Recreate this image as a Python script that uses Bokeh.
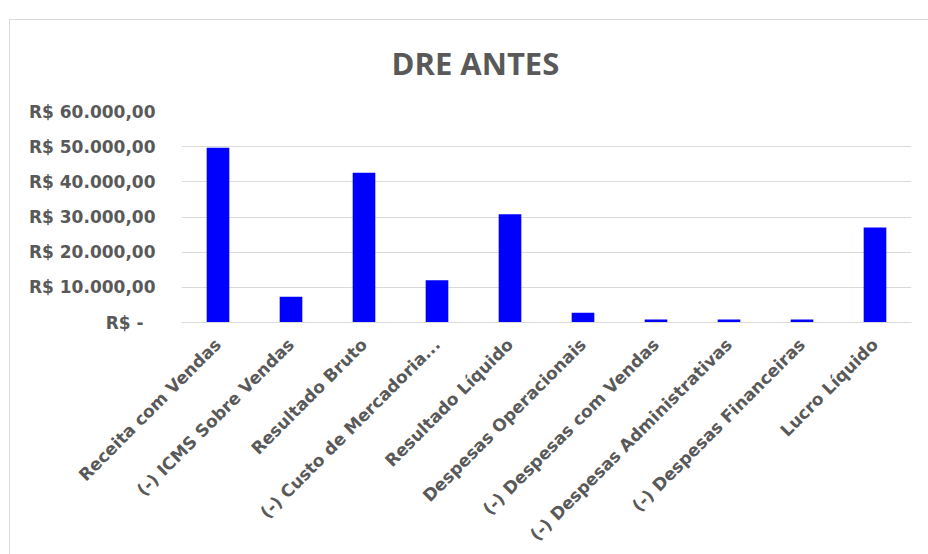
import math
from bokeh.plotting import figure
from bokeh.models import FactorRange, Range1d, FixedTicker, ColumnDataSource
from bokeh.embed import file_html
from bokeh.resources import INLINE

title_text = "DRE ANTES"
categories = [
    "Receita com Vendas",
    "(-) ICMS Sobre Vendas",
    "Resultado Bruto",
    "(-) Custo de Mercadoria...",
    "Resultado Líquido",
    "Despesas Operacionais",
    "(-) Despesas com Vendas",
    "(-) Despesas Administrativas",
    "(-) Despesas Financeiras",
    "Lucro Líquido",
]
values = [49700, 7300, 42600, 12000, 30800, 2800, 850, 850, 850, 27000]
y_ticks = [0, 10000, 20000, 30000, 40000, 50000, 60000]
y_tick_labels = ["R$ -\u00a0\u00a0", "R$ 10.000,00", "R$ 20.000,00", "R$ 30.000,00",
                 "R$ 40.000,00", "R$ 50.000,00", "R$ 60.000,00"]

TEXT = "#595959"
GRID = "#d9d9d9"

src = ColumnDataSource(dict(cat=categories, val=values))

chart_border = ("linear-gradient(#d9d9d9,#d9d9d9) 0 8px / 100% 1px no-repeat, "
                "linear-gradient(#d9d9d9,#d9d9d9) 0 8px / 1px 100% no-repeat")

p = figure(x_range=FactorRange(*categories), y_range=Range1d(0, 60000),
           width=919, height=543, margin=(11, 0, 0, 9),
           output_backend="svg", toolbar_location=None,
           min_border_left=172, min_border_right=17, min_border_top=100, min_border_bottom=232,
           styles={"background": chart_border})
p.x_range.range_padding = 0
p.border_fill_alpha = 0
p.background_fill_color = "white"

p.vbar(x="cat", top="val", width=0.31, source=src, fill_color="#0000ff", line_color=None)

p.title.text = title_text
p.title.align = "left"
p.title.offset = 210
p.title.standoff = 56
p.title.text_font = "Open Sans"
p.title.text_font_style = "bold"
p.title.text_font_size = "31px"
p.title.text_color = TEXT

p.outline_line_color = None
p.xgrid.grid_line_color = None
p.ygrid.grid_line_color = GRID
p.ygrid.grid_line_width = 1

p.yaxis.ticker = FixedTicker(ticks=y_ticks)
p.yaxis.major_label_overrides = {t: l for t, l in zip(y_ticks, y_tick_labels)}
p.yaxis.axis_line_color = None
p.yaxis.major_tick_line_color = None
p.yaxis.minor_tick_line_color = None
p.yaxis.major_tick_out = 0
p.yaxis.major_tick_in = 0
p.yaxis.major_label_standoff = 26
p.yaxis.major_label_text_font = "DejaVu Sans"
p.yaxis.major_label_text_font_style = "bold"
p.yaxis.major_label_text_font_size = "17px"
p.yaxis.major_label_text_color = TEXT

p.xaxis.axis_line_color = GRID
p.xaxis.major_tick_line_color = None
p.xaxis.minor_tick_line_color = None
p.xaxis.major_tick_out = 0
p.xaxis.major_tick_in = 0
p.xaxis.major_label_orientation = math.pi / 4
p.xaxis.major_label_standoff = 19
p.xaxis.major_label_text_font = "DejaVu Sans"
p.xaxis.major_label_text_font_style = "bold"
p.xaxis.major_label_text_font_size = "17px"
p.xaxis.major_label_text_color = TEXT

open("out.html", "w").write(file_html(p, INLINE))
